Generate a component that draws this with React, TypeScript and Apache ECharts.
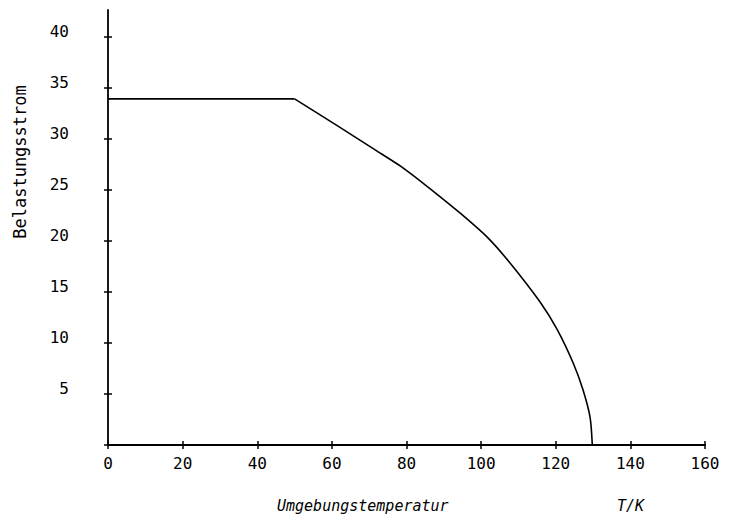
import React, { useEffect, useRef } from "react";
import * as echarts from "echarts";

// Curve: ambient temperature T/K vs. load current
const flatT = [0, 50];
const flatI = [33.9, 33.9];
const curveT = [50, 60.9, 71.6, 79.6, 87.7, 94.4, 101.5, 107.8, 115.8, 120.4, 124.7, 127.3, 129.2, 129.8];
const curveI = [33.9, 31.4, 28.9, 27.0, 24.7, 22.7, 20.4, 17.8, 14.0, 11.3, 8.0, 5.4, 2.7, 0];

const xTickValues = [0, 20, 40, 60, 80, 100, 120, 140, 160];
const yTickValues = [0, 5, 10, 15, 20, 25, 30, 35, 40];
const yLabelValues = [5, 10, 15, 20, 25, 30, 35, 40];

const xAxisTitle = "Umgebungstemperatur";
const xUnitTitle = "T/K";
const yAxisTitle = "Belastungsstrom";

const FONT = "DejaVu Sans Mono";

export default function App() {
  const ref = useRef<HTMLDivElement>(null);

  useEffect(() => {
    if (!ref.current) return;
    const chart = echarts.init(ref.current, null, { renderer: "svg" });
    const tickCommon = { lineStyle: { color: "#000", width: 1.5 }, length: 4 };
    const xBase = {
      type: "value" as const,
      min: 0,
      max: 160,
      interval: 20,
      position: "bottom" as const,
      splitLine: { show: false },
    };
    const yBase = {
      type: "value" as const,
      min: 0,
      max: 42.6,
      interval: 5,
      position: "left" as const,
      splitLine: { show: false },
    };
    const lineStyle = { color: "#000", width: 1.6 };
    chart.setOption({
      animation: false,
      backgroundColor: "#fff",
      grid: { left: 108, right: 24, top: 10, bottom: 75 },
      xAxis: [
        {
          ...xBase,
          axisLine: { show: true, lineStyle: { color: "#000", width: 1.8 } },
          axisTick: { show: true, inside: false, customValues: xTickValues, ...tickCommon },
          axisLabel: {
            customValues: xTickValues,
            color: "#000",
            fontFamily: FONT,
            fontSize: 16,
            margin: 10,
          },
        },
        {
          ...xBase,
          axisLine: { show: false },
          axisTick: { show: true, inside: true, customValues: xTickValues, ...tickCommon },
          axisLabel: { show: false },
        },
      ],
      yAxis: [
        {
          ...yBase,
          axisLine: { show: true, lineStyle: { color: "#000", width: 1.8 } },
          axisTick: { show: true, inside: false, customValues: yTickValues, ...tickCommon },
          axisLabel: {
            customValues: yLabelValues,
            color: "#000",
            fontFamily: FONT,
            fontSize: 16,
            margin: 39,
            verticalAlign: "bottom",
            lineHeight: 10,
          },
        },
        {
          ...yBase,
          axisLine: { show: false },
          axisTick: { show: true, inside: true, customValues: yTickValues, ...tickCommon },
          axisLabel: { show: false },
        },
      ],
      series: [
        {
          type: "line",
          xAxisIndex: 0,
          yAxisIndex: 0,
          data: flatT.map((t, i) => [t, flatI[i]]),
          showSymbol: false,
          lineStyle,
        },
        {
          type: "line",
          xAxisIndex: 0,
          yAxisIndex: 0,
          data: curveT.map((t, i) => [t, curveI[i]]),
          showSymbol: false,
          smooth: 0.25,
          lineStyle,
        },
      ],
      graphic: [
        {
          type: "text",
          x: 20,
          y: 162,
          rotation: Math.PI / 2,
          style: {
            text: yAxisTitle,
            fill: "#000",
            font: `17px "${FONT}"`,
            align: "center",
            verticalAlign: "middle",
          },
        },
        {
          type: "text",
          left: 277,
          top: 498,
          style: {
            text: xAxisTitle,
            fill: "#000",
            font: `italic 15px "${FONT}"`,
          },
        },
        {
          type: "text",
          left: 617,
          top: 498,
          style: {
            text: xUnitTitle,
            fill: "#000",
            font: `italic 15px "${FONT}"`,
          },
        },
      ],
    });
    return () => chart.dispose();
  }, []);

  return <div ref={ref} style={{ width: 729, height: 520, position: "absolute", left: 0, top: 0 }} />;
}
